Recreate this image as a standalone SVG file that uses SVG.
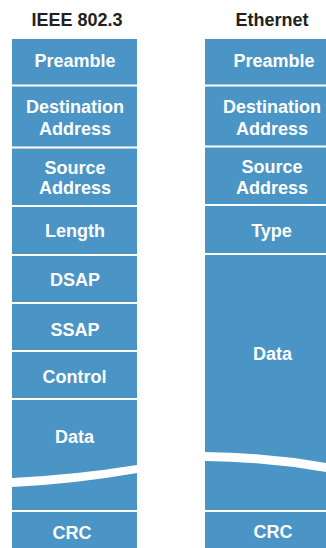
<svg xmlns="http://www.w3.org/2000/svg" width="326" height="548" viewBox="0 0 326 548">
<style>
.b{fill:#4a95c5}
.t{font-family:"Liberation Sans",Arial,sans-serif;font-weight:bold;font-size:18px;fill:#ffffff;text-anchor:middle}
.h{font-family:"Liberation Sans",Arial,sans-serif;font-weight:bold;font-size:18px;fill:#231f20;text-anchor:middle}
</style>
<rect width="326" height="548" fill="#ffffff"/>
<g id="ieee">
<text class="h" x="77" y="26">IEEE 802.3</text>
<g id="ieee-preamble"><rect class="b" x="12" y="39" width="125" height="45.5"/><text class="t" x="75" y="67">Preamble</text></g>
<g id="ieee-dest"><rect class="b" x="12" y="86.5" width="125" height="60"/><text class="t" x="75" y="113">Destination</text><text class="t" x="75" y="135">Address</text></g>
<g id="ieee-src"><rect class="b" x="12" y="148.5" width="125" height="56.5"/><text class="t" x="75" y="173.5">Source</text><text class="t" x="75" y="194">Address</text></g>
<g id="ieee-length"><rect class="b" x="12" y="207" width="125" height="47"/><text class="t" x="75" y="236.5">Length</text></g>
<g id="ieee-dsap"><rect class="b" x="12" y="256" width="125" height="46"/><text class="t" x="75" y="286">DSAP</text></g>
<g id="ieee-ssap"><rect class="b" x="12" y="304" width="125" height="46"/><text class="t" x="75" y="336">SSAP</text></g>
<g id="ieee-control"><rect class="b" x="12" y="352" width="125" height="46"/><text class="t" x="74.5" y="382.5">Control</text></g>
<g id="ieee-data">
<path class="b" d="M12,400 H137 V465 Q74.5,475 12,478 Z"/>
<path class="b" d="M12,487 Q74.5,484 137,473 V510 H12 Z"/>
<text class="t" x="74.5" y="443">Data</text>
</g>
<g id="ieee-crc"><rect class="b" x="12" y="512" width="125" height="36"/><text class="t" x="72" y="539">CRC</text></g>
</g>
<g id="ethernet">
<text class="h" x="272" y="26">Ethernet</text>
<g id="eth-preamble"><rect class="b" x="205" y="39" width="121" height="45.5"/><text class="t" x="274" y="67">Preamble</text></g>
<g id="eth-dest"><rect class="b" x="205" y="86.5" width="121" height="59"/><text class="t" x="272" y="113">Destination</text><text class="t" x="272" y="135">Address</text></g>
<g id="eth-src"><rect class="b" x="205" y="147.5" width="121" height="56.5"/><text class="t" x="272" y="173">Source</text><text class="t" x="272" y="193.5">Address</text></g>
<g id="eth-type"><rect class="b" x="205" y="206" width="121" height="47"/><text class="t" x="271.5" y="236.5">Type</text></g>
<g id="eth-data">
<path class="b" d="M205,255 H326 V463 Q265.5,452.5 205,452 Z"/>
<path class="b" d="M205,461 Q265.5,461.5 326,472 V510 H205 Z"/>
<text class="t" x="272.5" y="360">Data</text>
</g>
<g id="eth-crc"><rect class="b" x="205" y="512" width="121" height="36"/><text class="t" x="273" y="538">CRC</text></g>
</g>
</svg>
